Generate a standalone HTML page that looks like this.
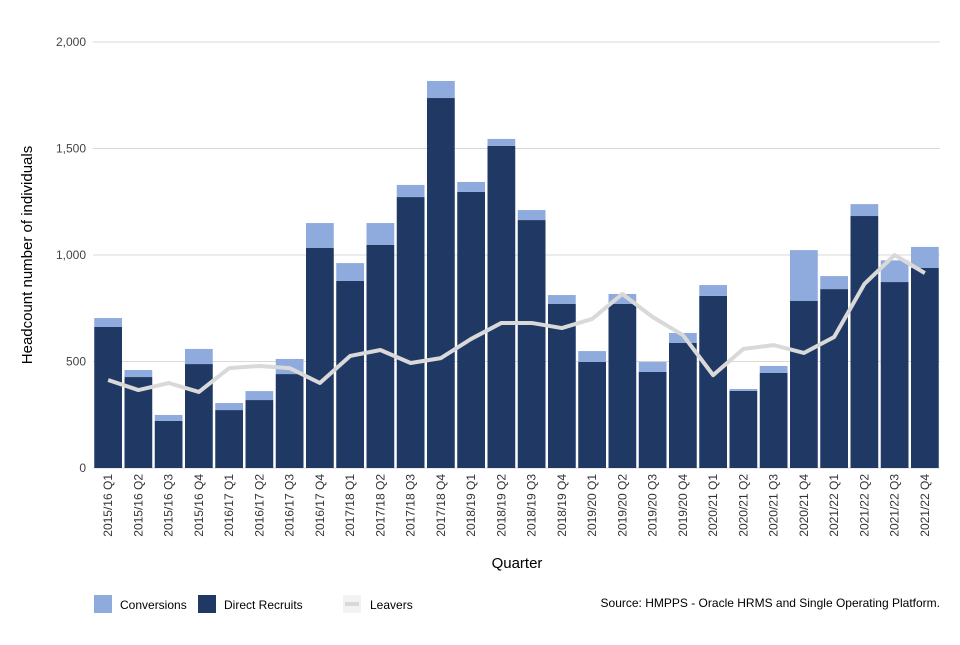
<!DOCTYPE html>
<html><head><meta charset="utf-8"><style>
body{margin:0;background:#fff;font-family:"Liberation Sans",Arial,sans-serif;}
svg text{font-family:"Liberation Sans",Arial,sans-serif;}
</style></head><body>
<svg id="chart" width="960" height="640" viewBox="0 0 960 640" xmlns="http://www.w3.org/2000/svg">
<g id="grid"></g><g id="bars"></g><g id="line"></g><g id="xlabels"></g>
<text transform="translate(32,255) rotate(-90)" text-anchor="middle" font-size="15" fill="#000">Headcount number of individuals</text>
<text x="517" y="568" text-anchor="middle" font-size="15" fill="#000">Quarter</text>
<g>
<rect x="94" y="595" width="18" height="18" fill="#8faadc"/>
<text x="120" y="609" font-size="12" fill="#000">Conversions</text>
<rect x="198" y="595" width="18" height="18" fill="#203864"/>
<text x="224" y="609" font-size="12" fill="#000">Direct Recruits</text>
<rect x="343" y="595" width="18" height="18" fill="#f2f2f2"/>
<rect x="345" y="602" width="14" height="4" fill="#d9d9d9"/>
<text x="370" y="609" font-size="12" fill="#000">Leavers</text>
</g>
<text x="940" y="607" text-anchor="end" font-size="12" fill="#000">Source: HMPPS - Oracle HRMS and Single Operating Platform.</text>
</svg>
<script>
const categories=["2015/16 Q1","2015/16 Q2","2015/16 Q3","2015/16 Q4","2016/17 Q1","2016/17 Q2","2016/17 Q3","2016/17 Q4","2017/18 Q1","2017/18 Q2","2017/18 Q3","2017/18 Q4","2018/19 Q1","2018/19 Q2","2018/19 Q3","2018/19 Q4","2019/20 Q1","2019/20 Q2","2019/20 Q3","2019/20 Q4","2020/21 Q1","2020/21 Q2","2020/21 Q3","2020/21 Q4","2021/22 Q1","2021/22 Q2","2021/22 Q3","2021/22 Q4"];
const directRecruits=[662,427,221,488,272,319,441,1033,878,1047,1272,1737,1296,1512,1164,770,498,770,451,587,808,362,446,784,840,1183,873,939];
const conversions=[42,33,28,71,33,42,71,117,84,103,57,80,47,33,47,42,51,47,47,47,51,9,33,239,61,56,102,99];
const leavers=[413,366,399,357,469,479,469,399,526,554,493,516,606,681,681,657,700,817,709,624,436,559,577,540,615,864,1000,915];
const yTicks=[0,500,1000,1500,2000];
const yTickLabels=["0","500","1,000","1,500","2,000"];

const NS="http://www.w3.org/2000/svg";
const x0=93,pw=847,y0=468,yTop=42,yMax=2000;
const band=pw/categories.length;
function y(v){return y0-(v/yMax)*(y0-yTop);}
function xc(i){return x0+band*(i+0.5);}
function mk(t,a,p){const e=document.createElementNS(NS,t);for(const k in a)e.setAttribute(k,a[k]);p.appendChild(e);return e;}
const grid=document.getElementById('grid');
yTicks.forEach((t,i)=>{
 const l=mk('line',{x1:x0,x2:940,y1:y(t),y2:y(t),stroke:'#d9d9d9','stroke-width':1},grid);
 
 
 const tx=mk('text',{x:86,y:y(t)+4,'text-anchor':'end','font-size':12,fill:'#444'},grid);
 tx.textContent=yTickLabels[i];
 
 
});
const bars=document.getElementById('bars'),xl=document.getElementById('xlabels');
const bw=band-2.5;
categories.forEach((c,i)=>{
 const d=directRecruits[i],cv=conversions[i];
 const r1=mk('rect',{x:xc(i)-bw/2,y:y(d),width:bw,height:y0-y(d),fill:'#203864'},bars);
 
 
 const r2=mk('rect',{x:xc(i)-bw/2,y:y(d+cv),width:bw,height:y(d)-y(d+cv),fill:'#8faadc'},bars);
 
 
 const t=mk('text',{transform:`translate(${xc(i)+4},474) rotate(-90)`,'text-anchor':'end','font-size':12,fill:'#333','xml:space':'preserve'},xl);
 t.textContent=c.replace(' ','  ');
 
 
});
const pts=leavers.map((v,i)=>xc(i)+','+y(v)).join(' ');
const pl=mk('polyline',{points:pts,fill:'none',stroke:'#d9d9d9','stroke-width':4,'stroke-linejoin':'round'},document.getElementById('line'));


</script>
</body></html>
